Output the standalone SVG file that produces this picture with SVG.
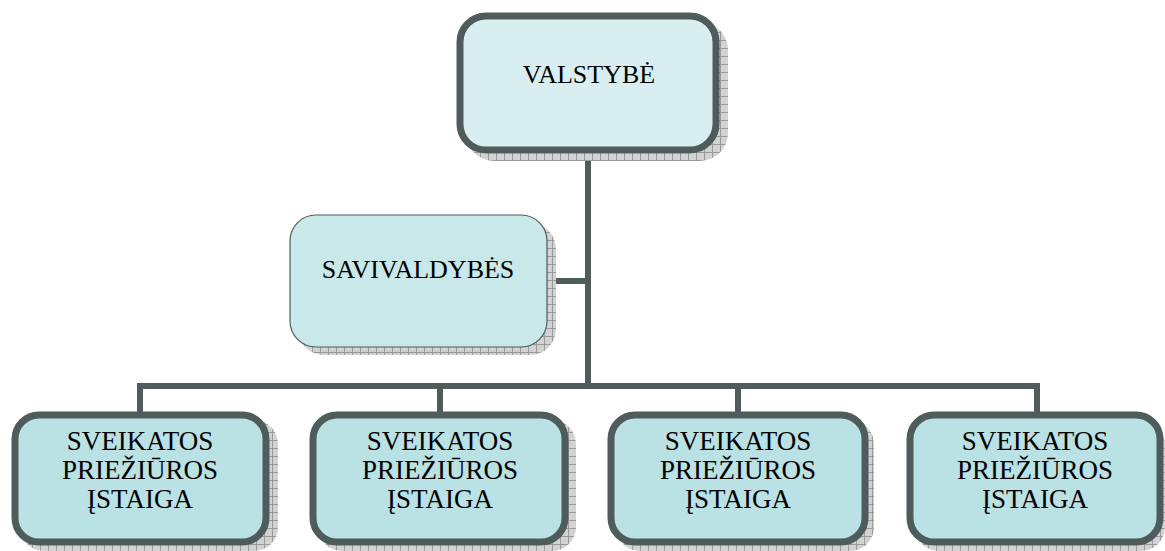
<svg xmlns="http://www.w3.org/2000/svg" width="1165" height="551" viewBox="0 0 1165 551">
<defs>
<pattern id="grid" width="8" height="8" patternUnits="userSpaceOnUse">
<rect width="8" height="8" fill="#d2d2d2"/>
<path d="M0 0.5H8M0.5 0V8" stroke="#9a9a9a" stroke-width="1"/>
</pattern>
</defs>
<style>
.shadow{fill:url(#grid);}
.thick{stroke:#4e5c5c;stroke-width:7;}
.thin{stroke:#4e5c5c;stroke-width:1.2;}
.conn{stroke:#4e5c5c;stroke-width:6;fill:none;}
text{font-family:"Liberation Serif","Times New Roman",serif;font-size:26px;fill:#000;text-anchor:middle;}
.b{font-size:27px;}
</style>
<g id="connectors">
<path class="conn" d="M588 152V386"/>
<path class="conn" d="M547 281H588"/>
<path class="conn" d="M140 386H1037"/>
<path class="conn" d="M140 383V412M440 386V412M738 386V412M1037 383V412"/>
</g>
<g id="valstybe">
<rect class="shadow" x="466" y="22" width="262" height="139" rx="28"/>
<rect class="thick" x="460" y="16" width="256" height="134" rx="26" fill="#d9eef1"/>
<text x="589" y="83">VALSTYBĖ</text>
</g>
<g id="savivaldybes">
<rect class="shadow" x="298" y="223" width="258" height="132" rx="26"/>
<rect class="thin" x="290" y="215" width="257" height="132" rx="26" fill="#c9e8ea"/>
<text x="418" y="278">SAVIVALDYBĖS</text>
</g>
<g id="istaiga1">
<rect class="shadow" x="20" y="420" width="258" height="131" rx="24"/>
<rect class="thick" x="15" y="415" width="251" height="127" rx="24" fill="#bae1e4"/>
<text class="b" x="140" y="450">SVEIKATOS</text>
<text class="b" x="140" y="479">PRIEŽIŪROS</text>
<text class="b" x="140" y="508">ĮSTAIGA</text>
</g>
<g id="istaiga2">
<rect class="shadow" x="318" y="420" width="258" height="131" rx="24"/>
<rect class="thick" x="313" y="415" width="252" height="127" rx="24" fill="#bae1e4"/>
<text class="b" x="440" y="450">SVEIKATOS</text>
<text class="b" x="440" y="479">PRIEŽIŪROS</text>
<text class="b" x="440" y="508">ĮSTAIGA</text>
</g>
<g id="istaiga3">
<rect class="shadow" x="616" y="420" width="258" height="131" rx="24"/>
<rect class="thick" x="611" y="415" width="254" height="127" rx="24" fill="#bae1e4"/>
<text class="b" x="738" y="450">SVEIKATOS</text>
<text class="b" x="738" y="479">PRIEŽIŪROS</text>
<text class="b" x="738" y="508">ĮSTAIGA</text>
</g>
<g id="istaiga4">
<rect class="shadow" x="915" y="420" width="250" height="131" rx="24"/>
<rect class="thick" x="910" y="415" width="250" height="127" rx="24" fill="#bae1e4"/>
<text class="b" x="1035" y="450">SVEIKATOS</text>
<text class="b" x="1035" y="479">PRIEŽIŪROS</text>
<text class="b" x="1035" y="508">ĮSTAIGA</text>
</g>
</svg>
